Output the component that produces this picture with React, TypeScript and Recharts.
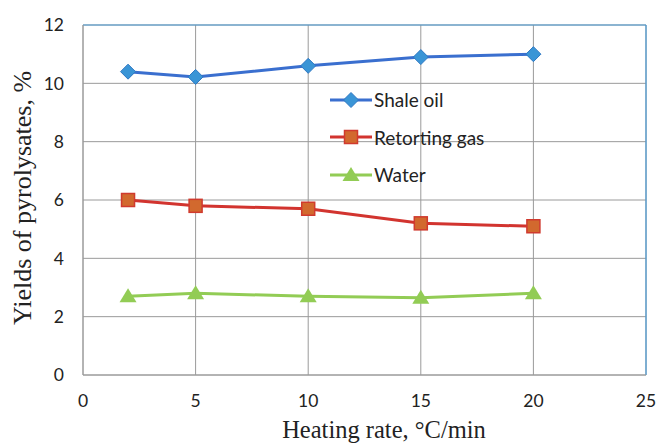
import { LineChart, Line, XAxis, YAxis, CartesianGrid, ReferenceLine } from "recharts"

const heatingRates = [2, 5, 10, 15, 20]
const shaleOil = [10.4, 10.22, 10.6, 10.9, 11.0]
const retortingGas = [6.0, 5.8, 5.7, 5.2, 5.1]
const water = [2.7, 2.8, 2.7, 2.65, 2.8]
const xTicks = [0, 5, 10, 15, 20, 25]
const yTicks = [0, 2, 4, 6, 8, 10, 12]

const data = heatingRates.map((rate, i) => ({
  rate,
  oil: shaleOil[i],
  gas: retortingGas[i],
  water: water[i],
}))

const Diamond = (props: any) => {
  const { cx, cy } = props
  if (cx == null || cy == null) return null
  return <path d={`M${cx},${cy - 7.5} L${cx + 7.5},${cy} L${cx},${cy + 7.5} L${cx - 7.5},${cy} Z`} fill="#3A95D6" stroke="#2F78C4" strokeWidth={1} />
}

const Square = (props: any) => {
  const { cx, cy } = props
  if (cx == null || cy == null) return null
  return <rect x={cx - 6.5} y={cy - 6.5} width={13} height={13} fill="#D2692E" stroke="#D03A2E" strokeWidth={1.5} />
}

const Triangle = (props: any) => {
  const { cx, cy } = props
  if (cx == null || cy == null) return null
  return <path d={`M${cx},${cy - 8} L${cx + 8.5},${cy + 6} L${cx - 8.5},${cy + 6} Z`} fill="#92CC55" />
}

const legendItems = [
  { name: "Shale oil", color: "#3A6FCF", Mark: Diamond },
  { name: "Retorting gas", color: "#D2342F", Mark: Square },
  { name: "Water", color: "#92CC55", Mark: Triangle },
]

const sansFont = "Lato, Liberation Sans, Arial, sans-serif"
const serifFont = "Liberation Serif, Times New Roman, serif"
const tickStyle = { fontFamily: sansFont, fontSize: 17.5, fill: "#222" }

const App = () => {
  return (
    <div style={{ position: "absolute", left: 0, top: 0, width: 659, height: 444, background: "#fff" }}>
      <LineChart width={659} height={444} data={data} margin={{ top: 25, right: 13, left: 0, bottom: 0 }}>
        <CartesianGrid stroke="#9a9a9a" strokeWidth={1} />
        <XAxis
          dataKey="rate"
          type="number"
          domain={[0, 25]}
          ticks={xTicks}
          height={69}
          tickLine={false}
          tickSize={0}
          tickMargin={20}
          stroke="#9a9a9a"
          tick={tickStyle}
          label={{
            content: () => (
              <text x={384} y={438} textAnchor="middle" fontFamily={serifFont} fontSize={24.5} fill="#222">
                Heating rate, °C/min
              </text>
            ),
          }}
        />
        <YAxis
          type="number"
          domain={[0, 12]}
          ticks={yTicks}
          width={83}
          tickLine={false}
          tickSize={0}
          tickMargin={19}
          stroke="#9a9a9a"
          tick={tickStyle}
          label={{
            content: () => (
              <text x={31} y={198} transform="rotate(-90 31 198)" textAnchor="middle" fontFamily={serifFont} fontSize={26} fill="#222">
                Yields of pyrolysates, %
              </text>
            ),
          }}
        />
        <ReferenceLine y={12} stroke="#4A9BD6" strokeWidth={1.2} />
        <ReferenceLine x={25} stroke="#4A9BD6" strokeWidth={1.2} />
        <Line dataKey="oil" name="Shale oil" stroke="#3A6FCF" strokeWidth={3} dot={<Diamond />} activeDot={false} isAnimationActive={false} />
        <Line dataKey="gas" name="Retorting gas" stroke="#D2342F" strokeWidth={3} dot={<Square />} activeDot={false} isAnimationActive={false} />
        <Line dataKey="water" name="Water" stroke="#92CC55" strokeWidth={3} dot={<Triangle />} activeDot={false} isAnimationActive={false} />
      </LineChart>
      <div style={{ position: "absolute", left: 328, top: 81, fontFamily: sansFont, fontSize: 19, color: "#222" }}>
        {legendItems.map((item) => (
          <div key={item.name} style={{ display: "flex", alignItems: "center", height: 37.5 }}>
            <svg width={46} height={20}>
              <line x1={2} y1={10} x2={44} y2={10} stroke={item.color} strokeWidth={3} />
              <item.Mark cx={23} cy={10} />
            </svg>
            <span>{item.name}</span>
          </div>
        ))}
      </div>
    </div>
  )
}

export default App
